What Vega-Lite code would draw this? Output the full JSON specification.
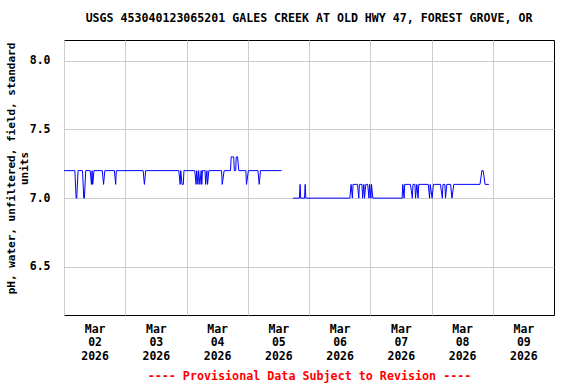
{
  "$schema": "https://vega.github.io/schema/vega-lite/v6.json",
  "autosize": "none",
  "width": 490,
  "height": 275,
  "padding": {"left": 64, "top": 40, "right": 22, "bottom": 69},
  "background": "white",
  "config": {
    "view": {"stroke": "black", "strokeWidth": 1},
    "font": "DejaVu Sans Mono"
  },
  "title": {
    "text": "USGS 453040123065201 GALES CREEK AT OLD HWY 47, FOREST GROVE, OR",
    "font": "DejaVu Sans Mono",
    "fontWeight": "bold",
    "fontSize": 11.6,
    "color": "black",
    "anchor": "middle",
    "offset": 15
  },
  "data": {
    "values": [
      {"t": "2026-03-02T00:00", "v": 7.2, "s": 1},
      {"t": "2026-03-02T04:15", "v": 7.2, "s": 1},
      {"t": "2026-03-02T04:45", "v": 7.0, "s": 1},
      {"t": "2026-03-02T05:00", "v": 7.0, "s": 1},
      {"t": "2026-03-02T05:30", "v": 7.2, "s": 1},
      {"t": "2026-03-02T07:15", "v": 7.2, "s": 1},
      {"t": "2026-03-02T07:45", "v": 7.0, "s": 1},
      {"t": "2026-03-02T08:00", "v": 7.0, "s": 1},
      {"t": "2026-03-02T08:30", "v": 7.2, "s": 1},
      {"t": "2026-03-02T10:15", "v": 7.2, "s": 1},
      {"t": "2026-03-02T10:45", "v": 7.1, "s": 1},
      {"t": "2026-03-02T11:00", "v": 7.2, "s": 1},
      {"t": "2026-03-02T11:15", "v": 7.1, "s": 1},
      {"t": "2026-03-02T11:45", "v": 7.2, "s": 1},
      {"t": "2026-03-02T15:00", "v": 7.2, "s": 1},
      {"t": "2026-03-02T15:30", "v": 7.1, "s": 1},
      {"t": "2026-03-02T16:00", "v": 7.2, "s": 1},
      {"t": "2026-03-02T19:45", "v": 7.2, "s": 1},
      {"t": "2026-03-02T20:15", "v": 7.1, "s": 1},
      {"t": "2026-03-02T20:30", "v": 7.2, "s": 1},
      {"t": "2026-03-03T07:00", "v": 7.2, "s": 1},
      {"t": "2026-03-03T07:30", "v": 7.1, "s": 1},
      {"t": "2026-03-03T08:00", "v": 7.2, "s": 1},
      {"t": "2026-03-03T21:00", "v": 7.2, "s": 1},
      {"t": "2026-03-03T21:30", "v": 7.1, "s": 1},
      {"t": "2026-03-03T21:45", "v": 7.2, "s": 1},
      {"t": "2026-03-03T22:15", "v": 7.1, "s": 1},
      {"t": "2026-03-03T22:45", "v": 7.1, "s": 1},
      {"t": "2026-03-03T23:00", "v": 7.2, "s": 1},
      {"t": "2026-03-04T03:15", "v": 7.2, "s": 1},
      {"t": "2026-03-04T03:45", "v": 7.1, "s": 1},
      {"t": "2026-03-04T04:00", "v": 7.2, "s": 1},
      {"t": "2026-03-04T04:30", "v": 7.1, "s": 1},
      {"t": "2026-03-04T04:45", "v": 7.2, "s": 1},
      {"t": "2026-03-04T05:15", "v": 7.1, "s": 1},
      {"t": "2026-03-04T05:45", "v": 7.2, "s": 1},
      {"t": "2026-03-04T06:00", "v": 7.1, "s": 1},
      {"t": "2026-03-04T06:15", "v": 7.2, "s": 1},
      {"t": "2026-03-04T07:15", "v": 7.2, "s": 1},
      {"t": "2026-03-04T07:30", "v": 7.1, "s": 1},
      {"t": "2026-03-04T08:00", "v": 7.2, "s": 1},
      {"t": "2026-03-04T08:15", "v": 7.1, "s": 1},
      {"t": "2026-03-04T08:45", "v": 7.2, "s": 1},
      {"t": "2026-03-04T13:45", "v": 7.2, "s": 1},
      {"t": "2026-03-04T14:00", "v": 7.1, "s": 1},
      {"t": "2026-03-04T14:45", "v": 7.2, "s": 1},
      {"t": "2026-03-04T17:15", "v": 7.2, "s": 1},
      {"t": "2026-03-04T17:30", "v": 7.3, "s": 1},
      {"t": "2026-03-04T18:30", "v": 7.3, "s": 1},
      {"t": "2026-03-04T18:45", "v": 7.2, "s": 1},
      {"t": "2026-03-04T19:15", "v": 7.2, "s": 1},
      {"t": "2026-03-04T19:30", "v": 7.3, "s": 1},
      {"t": "2026-03-04T20:00", "v": 7.3, "s": 1},
      {"t": "2026-03-04T20:30", "v": 7.2, "s": 1},
      {"t": "2026-03-04T23:15", "v": 7.2, "s": 1},
      {"t": "2026-03-04T23:30", "v": 7.1, "s": 1},
      {"t": "2026-03-05T00:15", "v": 7.2, "s": 1},
      {"t": "2026-03-05T04:00", "v": 7.2, "s": 1},
      {"t": "2026-03-05T04:30", "v": 7.1, "s": 1},
      {"t": "2026-03-05T05:00", "v": 7.2, "s": 1},
      {"t": "2026-03-05T13:15", "v": 7.2, "s": 1},
      {"t": "2026-03-05T17:45", "v": 7.0, "s": 2},
      {"t": "2026-03-05T20:15", "v": 7.0, "s": 2},
      {"t": "2026-03-05T20:30", "v": 7.1, "s": 2},
      {"t": "2026-03-05T20:45", "v": 7.0, "s": 2},
      {"t": "2026-03-05T22:15", "v": 7.0, "s": 2},
      {"t": "2026-03-05T22:30", "v": 7.1, "s": 2},
      {"t": "2026-03-05T22:45", "v": 7.0, "s": 2},
      {"t": "2026-03-06T16:00", "v": 7.0, "s": 2},
      {"t": "2026-03-06T16:30", "v": 7.1, "s": 2},
      {"t": "2026-03-06T17:00", "v": 7.0, "s": 2},
      {"t": "2026-03-06T17:15", "v": 7.1, "s": 2},
      {"t": "2026-03-06T19:00", "v": 7.1, "s": 2},
      {"t": "2026-03-06T19:30", "v": 7.0, "s": 2},
      {"t": "2026-03-06T19:45", "v": 7.1, "s": 2},
      {"t": "2026-03-06T20:45", "v": 7.1, "s": 2},
      {"t": "2026-03-06T21:00", "v": 7.0, "s": 2},
      {"t": "2026-03-06T21:30", "v": 7.1, "s": 2},
      {"t": "2026-03-06T21:45", "v": 7.0, "s": 2},
      {"t": "2026-03-06T22:15", "v": 7.1, "s": 2},
      {"t": "2026-03-06T23:00", "v": 7.1, "s": 2},
      {"t": "2026-03-06T23:30", "v": 7.0, "s": 2},
      {"t": "2026-03-06T23:45", "v": 7.1, "s": 2},
      {"t": "2026-03-07T00:15", "v": 7.0, "s": 2},
      {"t": "2026-03-07T00:30", "v": 7.1, "s": 2},
      {"t": "2026-03-07T01:00", "v": 7.0, "s": 2},
      {"t": "2026-03-07T12:30", "v": 7.0, "s": 2},
      {"t": "2026-03-07T12:45", "v": 7.1, "s": 2},
      {"t": "2026-03-07T13:15", "v": 7.0, "s": 2},
      {"t": "2026-03-07T13:30", "v": 7.1, "s": 2},
      {"t": "2026-03-07T15:45", "v": 7.1, "s": 2},
      {"t": "2026-03-07T16:30", "v": 7.0, "s": 2},
      {"t": "2026-03-07T16:45", "v": 7.1, "s": 2},
      {"t": "2026-03-07T17:30", "v": 7.1, "s": 2},
      {"t": "2026-03-07T17:45", "v": 7.0, "s": 2},
      {"t": "2026-03-07T18:15", "v": 7.1, "s": 2},
      {"t": "2026-03-07T18:45", "v": 7.0, "s": 2},
      {"t": "2026-03-07T19:00", "v": 7.1, "s": 2},
      {"t": "2026-03-07T22:45", "v": 7.1, "s": 2},
      {"t": "2026-03-07T23:15", "v": 7.0, "s": 2},
      {"t": "2026-03-07T23:30", "v": 7.1, "s": 2},
      {"t": "2026-03-08T00:15", "v": 7.0, "s": 2},
      {"t": "2026-03-08T00:45", "v": 7.1, "s": 2},
      {"t": "2026-03-08T03:30", "v": 7.1, "s": 2},
      {"t": "2026-03-08T04:15", "v": 7.0, "s": 2},
      {"t": "2026-03-08T04:30", "v": 7.1, "s": 2},
      {"t": "2026-03-08T05:15", "v": 7.1, "s": 2},
      {"t": "2026-03-08T05:30", "v": 7.0, "s": 2},
      {"t": "2026-03-08T06:00", "v": 7.1, "s": 2},
      {"t": "2026-03-08T07:30", "v": 7.1, "s": 2},
      {"t": "2026-03-08T08:00", "v": 7.0, "s": 2},
      {"t": "2026-03-08T08:45", "v": 7.1, "s": 2},
      {"t": "2026-03-08T19:00", "v": 7.1, "s": 2},
      {"t": "2026-03-08T19:45", "v": 7.2, "s": 2},
      {"t": "2026-03-08T20:15", "v": 7.2, "s": 2},
      {"t": "2026-03-08T21:00", "v": 7.1, "s": 2},
      {"t": "2026-03-08T22:30", "v": 7.1, "s": 2}
    ]
  },
  "mark": {"type": "line", "color": "#0000ff", "strokeWidth": 1, "clip": true},
  "encoding": {
    "x": {
      "field": "t",
      "type": "temporal",
      "scale": {
        "domain": [
          {"year": 2026, "month": 3, "date": 2},
          {"year": 2026, "month": 3, "date": 10}
        ]
      },
      "axis": {
        "values": [
          {"year": 2026, "month": 3, "date": 2},
          {"year": 2026, "month": 3, "date": 3},
          {"year": 2026, "month": 3, "date": 4},
          {"year": 2026, "month": 3, "date": 5},
          {"year": 2026, "month": 3, "date": 6},
          {"year": 2026, "month": 3, "date": 7},
          {"year": 2026, "month": 3, "date": 8},
          {"year": 2026, "month": 3, "date": 9}
        ],
        "labelExpr": "[timeFormat(datum.value, '%b'), timeFormat(datum.value, '%d'), timeFormat(datum.value, '%Y')]",
        "labelOffset": 30.6,
        "labelAlign": "center",
        "labelBaseline": "top",
        "labelPadding": 8,
        "labelLineHeight": 13.5,
        "labelFont": "DejaVu Sans Mono",
        "labelFontWeight": "bold",
        "labelFontSize": 11.5,
        "labelColor": "black",
        "labelOverlap": false,
        "labelFlush": false,
        "labelBound": false,
        "ticks": false,
        "domain": false,
        "grid": true,
        "gridColor": "#cccccc",
        "gridWidth": 1,
        "title": "---- Provisional Data Subject to Revision ----",
        "titleColor": "#ff0000",
        "titleFont": "DejaVu Sans Mono",
        "titleFontWeight": "bold",
        "titleFontSize": 11.7,
        "titleBaseline": "middle",
        "titleY": 60
      }
    },
    "y": {
      "field": "v",
      "type": "quantitative",
      "scale": {"domain": [6.15, 8.15], "nice": false, "zero": false},
      "axis": {
        "values": [6.5, 7.0, 7.5, 8.0],
        "format": ".1f",
        "labelFont": "DejaVu Sans Mono",
        "labelFontWeight": "bold",
        "labelFontSize": 11.5,
        "labelColor": "black",
        "labelPadding": 14,
        "ticks": false,
        "domain": false,
        "grid": true,
        "gridColor": "#cccccc",
        "gridWidth": 1,
        "title": ["pH, water, unfiltered, field, standard", "units"],
        "titleFont": "DejaVu Sans Mono",
        "titleFontWeight": "bold",
        "titleFontSize": 11,
        "titleColor": "black",
        "titleLineHeight": 13,
        "titleBaseline": "middle",
        "titleAngle": 270,
        "titleX": -52.5,
        "titleY": 128
      }
    },
    "detail": {"field": "s", "type": "nominal"}
  }
}
